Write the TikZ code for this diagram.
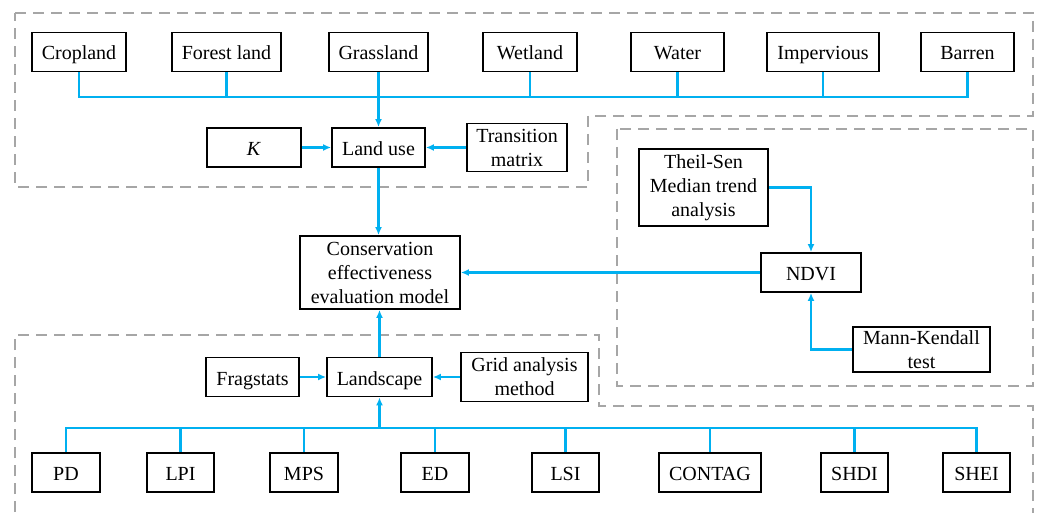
\documentclass[tikz,border=0pt]{standalone}
\usepackage{fontspec}
\setmainfont{Liberation Serif}
\usetikzlibrary{arrows.meta}
\definecolor{flowc}{RGB}{0,176,240}
\definecolor{dashgray}{RGB}{166,166,166}
\begin{document}
\begin{tikzpicture}[x=1pt,y=-1pt,
  box/.style={draw=black, line width=1.8pt, minimum height=39pt, inner sep=1pt, align=center, fill=white, font=\fontsize{20}{24}\selectfont},
  one/.style={box, text height=16pt, text depth=0pt},
  flow/.style={draw=flowc, line width=2.4pt},
  arr/.style={flow, -{Latex[length=8pt,width=7pt]}},
  region/.style={draw=dashgray, line width=2pt, dash pattern=on 11pt off 7pt}]
\clip (0,0) rectangle (1040,513);
\fill[white] (0,0) rectangle (1040,513);
% dashed regions
\draw[region] (15,13) -- (1033,13) -- (1033,116) -- (588,116) -- (588,187) -- (15,187) -- cycle;
\draw[region] (617,129) rectangle (1033,386);
\draw[region] (15,530) -- (15,335) -- (599,335) -- (599,406) -- (1033,406) -- (1033,530);
% top row
\node[one, minimum width=94pt] (crop) at (79,52) {Cropland};
\node[one, minimum width=109pt] (forest) at (226.5,52) {Forest land};
\node[one, minimum width=99pt] (grass) at (378.5,52) {Grassland};
\node[one, minimum width=94pt] (wet) at (530,52) {Wetland};
\node[one, minimum width=93pt] (water) at (677.5,52) {Water};
\node[one, minimum width=112pt] (imp) at (823,52) {Impervious};
\node[one, minimum width=93pt] (barren) at (967.5,52) {Barren};
% second row
\node[one, minimum width=94pt] (k) at (254,147.5) {\textit{K}};
\node[one, minimum width=93pt] (landuse) at (378.5,147.5) {Land use};
\node[box, minimum width=100pt, minimum height=48pt] (trans) at (517,147.5) {Transition\\matrix};
% center
\node[box, minimum width=160pt, minimum height=73pt] (cons) at (380,272.5) {Conservation\\effectiveness\\evaluation model};
% landscape row
\node[one, minimum width=93pt] (frag) at (252.5,377) {Fragstats};
\node[one, minimum width=105pt] (land) at (379.5,377) {Landscape};
\node[box, minimum width=127pt, minimum height=49pt] (grid) at (524.5,377) {Grid analysis\\method};
% bottom row
\node[one, minimum width=68pt] (pd) at (66,472.5) {PD};
\node[one, minimum width=67pt] (lpi) at (180.5,472.5) {LPI};
\node[one, minimum width=68pt] (mps) at (304,472.5) {MPS};
\node[one, minimum width=68pt] (ed) at (435,472.5) {ED};
\node[one, minimum width=67pt] (lsi) at (565.5,472.5) {LSI};
\node[one, minimum width=102pt] (contag) at (710,472.5) {CONTAG};
\node[one, minimum width=67pt] (shdi) at (854.5,472.5) {SHDI};
\node[one, minimum width=67pt] (shei) at (976.5,472.5) {SHEI};
% right part
\node[box, minimum width=129pt, minimum height=77pt] (theil) at (703.5,187.5) {Theil-Sen\\Median trend\\analysis};
\node[one, minimum width=100pt] (ndvi) at (811,272.5) {NDVI};
\node[box, minimum width=137pt, minimum height=45pt] (mk) at (921.5,349.5) {Mann-Kendall\\test};
% connectors top
\coordinate (tb) at (0,97);
\draw[flow] (crop.south) -- (crop.south |- tb) -- (barren.south |- tb) -- (barren.south);
\draw[flow] (forest.south) -- (forest.south |- tb);
\draw[flow] (wet.south) -- (wet.south |- tb);
\draw[flow] (water.south) -- (water.south |- tb);
\draw[flow] (imp.south) -- (imp.south |- tb);
\draw[arr] (grass.south) -- (landuse.north);
\draw[arr] (k.east) -- (landuse.west);
\draw[arr] (trans.west) -- (landuse.east);
\draw[arr] (landuse.south) -- (landuse.south |- cons.north);
% connectors bottom
\coordinate (bb) at (0,428);
\draw[flow] (pd.north) -- (pd.north |- bb) -- (shei.north |- bb) -- (shei.north);
\draw[flow] (lpi.north) -- (lpi.north |- bb);
\draw[flow] (mps.north) -- (mps.north |- bb);
\draw[flow] (ed.north) -- (ed.north |- bb);
\draw[flow] (lsi.north) -- (lsi.north |- bb);
\draw[flow] (contag.north) -- (contag.north |- bb);
\draw[flow] (shdi.north) -- (shdi.north |- bb);
\draw[arr] (land.south |- bb) -- (land.south);
\draw[arr] (frag.east) -- (land.west);
\draw[arr] (grid.west) -- (land.east);
\draw[arr] (land.north) -- (land.north |- cons.south);
% right connectors
\draw[arr] (theil.east) -| (ndvi.north);
\draw[arr] (mk.west) -| (ndvi.south);
\draw[arr] (ndvi.west) -- (cons.east);
\end{tikzpicture}
\end{document}
